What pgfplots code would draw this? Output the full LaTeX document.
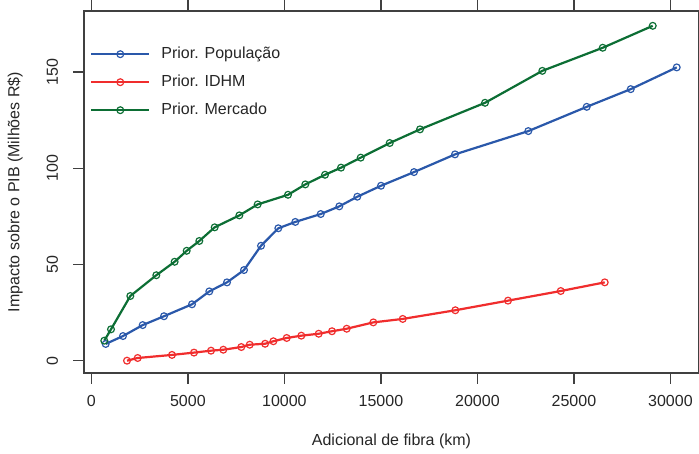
\documentclass[border=0pt]{standalone}
\usepackage{fontspec}
\setmainfont{Liberation Sans}
\usepackage{pgfplots}
\pgfplotsset{compat=1.18}
\definecolor{cblue}{RGB}{42,88,170}
\definecolor{cred}{RGB}{240,45,45}
\definecolor{cgreen}{RGB}{12,110,52}
\definecolor{caxis}{RGB}{64,64,64}
\begin{document}
\begin{tikzpicture}[x=1pt,y=1pt]
\path[use as bounding box] (-84,-80) rectangle (615,373);
\begin{axis}[
  scale only axis, width=615pt, height=362pt,
  xmin=-383, xmax=31480, ymin=-6.4, ymax=181.7,
  axis line style={draw=caxis, line width=1.2pt},
  tick align=outside, major tick length=10.5pt,
  tick style={draw=caxis, line width=1.2pt},
  xtick={0,5000,10000,15000,20000,25000,30000},
  ytick={0,50,100,150},
  scaled x ticks=false,
  /pgf/number format/1000 sep={},
  /pgf/number format/assume math mode=true,
  tick label style={font=\fontsize{16}{19}\selectfont, text=black!85},
  yticklabel style={rotate=90, anchor=south},
  xticklabel shift=8pt,
  yticklabel shift=12pt,
  label style={font=\fontsize{16}{19}\selectfont, text=black!85},
  xlabel={Adicional de fibra (km)},
  ylabel={Impacto sobre o PIB (Milhões R\$)},
  xlabel style={at={([yshift=-68pt]axis description cs:0.5,0)}, anchor=center},
  ylabel style={at={([xshift=-69pt]axis description cs:0,0.5)}, anchor=center},
  legend cell align=left,
  legend style={draw=none, fill=none, inner sep=0pt,
    at={(axis description cs:0,1)}, anchor=north west, xshift=6pt, yshift=-34pt,
    font=\fontsize{16}{19}\selectfont, text=black!85,
    nodes={text height=11pt, text depth=3pt, inner sep=2pt},
    row sep=10pt,
    /tikz/every odd column/.append style={column sep=9pt}},
  legend image code/.code={\draw[mark repeat=2,mark phase=2,#1] plot coordinates {(0pt,0pt) (29pt,0pt) (58pt,0pt)};},
  every axis plot/.append style={line width=2.2pt, mark=o, mark size=3.4pt, mark options={solid, line width=1.2pt}},
]
\addplot[cblue] coordinates {
(741,8.7) (1637,12.8) (2658,18.5) (3762,23.1) (5212,29.3) (6109,36.0) (7026,40.7)
(7907,47.1) (8788,59.7) (9684,68.8) (10565,72.1) (11881,76.2) (12845,80.2) (13777,85.2)
(15005,90.9) (16715,98.0) (18839,107.2) (22637,119.3) (25663,131.9) (27943,141.1) (30326,152.4)};
\addlegendentry{Prior. População}
\addplot[cred] coordinates {
(1845,0.0) (2399,1.4) (4176,3.0) (5316,4.2) (6197,5.2) (6834,5.7) (7767,7.1)
(8202,8.3) (9000,8.8) (9430,10.1) (10119,11.8) (10876,13.0) (11777,14.0) (12466,15.3)
(13228,16.6) (14606,19.9) (16130,21.7) (18855,26.2) (21585,31.2) (24316,36.2) (26596,40.7)};
\addlegendentry{Prior. IDHM}
\addplot[cgreen] coordinates {
(668,10.4) (1016,16.3) (2016,33.6) (3363,44.4) (4313,51.4) (4937,57.1) (5591,62.2)
(6387,69.3) (7665,75.5) (8614,81.2) (10186,86.2) (11083,91.6) (12104,96.6) (12933,100.3)
(13953,105.5) (15456,113.1) (17026,120.2) (20394,134.0) (23363,150.6) (26492,162.6) (29083,174.0)};
\addlegendentry{Prior. Mercado}
\end{axis}
\end{tikzpicture}
\end{document}
